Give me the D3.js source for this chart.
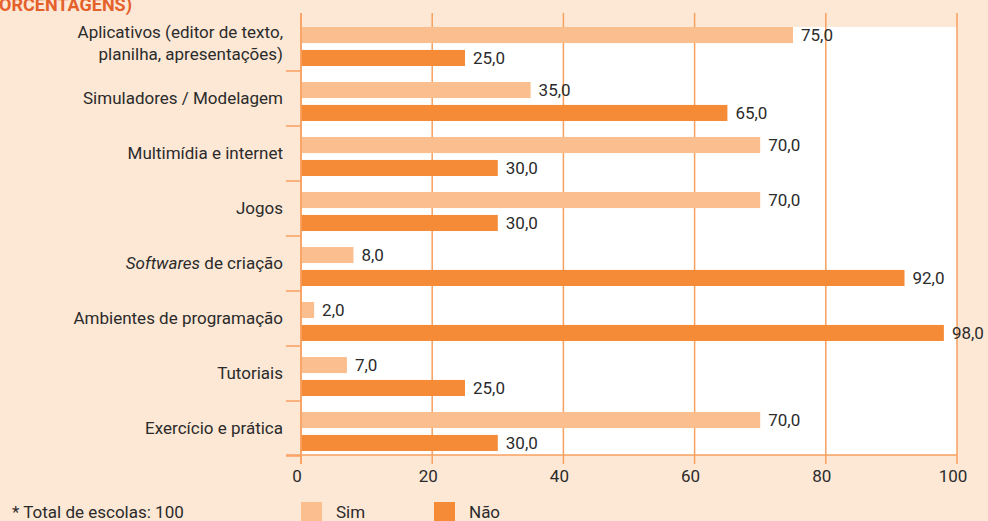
<!DOCTYPE html>
<html>
<head>
<meta charset="utf-8">
<script src="https://cdn.jsdelivr.net/npm/d3@7"></script>
<style>
  body { margin: 0; background: #fde8d6; }
  svg { display: block; font-family: Roboto, "Noto Sans", sans-serif; }
</style>
</head>
<body>
<script>
// categories and values (percent of schools)
var categories = ['Aplicativos', 'Simuladores', 'Multimidia', 'Jogos', 'Softwares', 'Ambientes', 'Tutoriais', 'Exercicio'];
var catLabels = [
  ['Aplicativos (editor de texto,', 'planilha, apresentações)'],
  ['Simuladores / Modelagem'],
  ['Multimídia e internet'],
  ['Jogos'],
  ['Softwares de criação'],
  ['Ambientes de programação'],
  ['Tutoriais'],
  ['Exercício e prática']
];
var simValues = [75, 35, 70, 70, 8, 2, 7, 70];
var naoValues = [25, 65, 30, 30, 92, 98, 25, 30];
var series = ['Sim', 'Não'];
var xTicks = [0, 20, 40, 60, 80, 100];

var colors = { 'Sim': '#fbbf8f', 'Não': '#f68b37' };
var gridColor = '#f7a060';
var textColor = '#2b2b2b';

var W = 988, H = 521;
var svg = d3.select('body').append('svg').attr('width', W).attr('height', H);

var x = d3.scaleLinear().domain([0, 100]).range([301, 957]);
var y = d3.scaleBand().domain(categories).range([16, 456]);
var ySub = d3.scaleBand().domain(series).range([11, 50]).paddingInner(0.3);

// title (cut at the top of the picture, as in the source)
svg.append('text')
  .attr('x', 132).attr('y', 11)
  .attr('text-anchor', 'end')
  .attr('fill', '#e5612b')
  .attr('font-weight', 'bold')
  .attr('font-size', 18)
  .text('(PORCENTAGENS)');

// white plot area
svg.append('rect')
  .attr('x', x(0)).attr('y', 27)
  .attr('width', x(100) - x(0)).attr('height', 455 - 27)
  .attr('fill', '#fff');

// vertical grid lines
svg.selectAll('line.grid').data(xTicks).enter().append('line')
  .attr('class', 'grid')
  .attr('x1', d => x(d)).attr('x2', d => x(d))
  .attr('y1', 13).attr('y2', 464)
  .attr('stroke', gridColor).attr('stroke-width', 1.5);

// bars
var rows = categories.map(function(c, i){
  return { cat: c, vals: [{ s: 'Sim', v: simValues[i] }, { s: 'Não', v: naoValues[i] }] };
});

var g = svg.selectAll('g.row').data(rows).enter().append('g')
  .attr('class', 'row')
  .attr('transform', d => `translate(0,${y(d.cat)})`);

g.selectAll('rect').data(d => d.vals).enter().append('rect')
  .attr('x', x(0))
  .attr('y', d => ySub(d.s))
  .attr('width', d => x(d.v) - x(0))
  .attr('height', ySub.bandwidth())
  .attr('fill', d => colors[d.s]);

g.selectAll('text.val').data(d => d.vals).enter().append('text')
  .attr('class', 'val')
  .attr('x', d => x(d.v) + 8)
  .attr('y', d => ySub(d.s) + ySub.bandwidth() / 2)
  .attr('dy', '0.36em')
  .attr('font-size', 17)
  .attr('fill', textColor)
  .text(d => d3.format('.1f')(d.v).replace('.', ','));

// left axis line and boundary ticks
svg.append('line')
  .attr('x1', x(0)).attr('x2', x(0)).attr('y1', 13).attr('y2', 464)
  .attr('stroke', gridColor).attr('stroke-width', 1.5);

svg.selectAll('line.ytick').data(categories).enter().append('line')
  .attr('class', 'ytick')
  .attr('x1', 286).attr('x2', x(0))
  .attr('y1', d => y(d) + y.bandwidth()).attr('y2', d => y(d) + y.bandwidth())
  .attr('stroke', gridColor).attr('stroke-width', 1.5);

// bottom axis line
svg.append('line')
  .attr('x1', 286).attr('x2', x(100)).attr('y1', 455).attr('y2', 455)
  .attr('stroke', gridColor).attr('stroke-width', 1.5);

// x tick labels
svg.selectAll('text.xtick').data(xTicks).enter().append('text')
  .attr('class', 'xtick')
  .attr('x', d => x(d) - 4).attr('y', 476)
  .attr('dy', '0.36em')
  .attr('text-anchor', 'middle')
  .attr('font-size', 17)
  .attr('fill', textColor)
  .text(d => d);

// category labels
var lab = svg.selectAll('text.cat').data(categories).enter().append('text')
  .attr('class', 'cat')
  .attr('text-anchor', 'end')
  .attr('font-size', 17)
  .attr('fill', textColor);

lab.each(function(c, i){
  var t = d3.select(this);
  var lines = catLabels[i];
  var mid = y(c) + y.bandwidth() / 2 - 1;
  lines.forEach(function(l, j){
    var yy = mid + (j - (lines.length - 1) / 2) * 22;
    if (c === 'Softwares') {
      var ts = t.append('tspan').attr('x', 283).attr('y', yy).attr('dy', '0.36em');
      ts.append('tspan').attr('font-style', 'italic').text('Softwares');
      t.append('tspan').text(' de criação');
    } else {
      t.append('tspan').attr('x', 283).attr('y', yy).attr('dy', '0.36em').text(l);
    }
  });
});

// legend
var leg = svg.selectAll('g.leg').data(series).enter().append('g')
  .attr('class', 'leg')
  .attr('transform', (d, i) => `translate(${301 + i * 133},502)`);
leg.append('rect').attr('width', 21).attr('height', 22).attr('fill', d => colors[d]);
leg.append('text').attr('x', 35).attr('y', 10).attr('dy', '0.36em')
  .attr('font-size', 17).attr('fill', textColor).text(d => d);

svg.append('text')
  .attr('x', 12).attr('y', 512).attr('dy', '0.36em')
  .attr('font-size', 17).attr('fill', textColor)
  .text('* Total de escolas: 100');
</script>
</body>
</html>
